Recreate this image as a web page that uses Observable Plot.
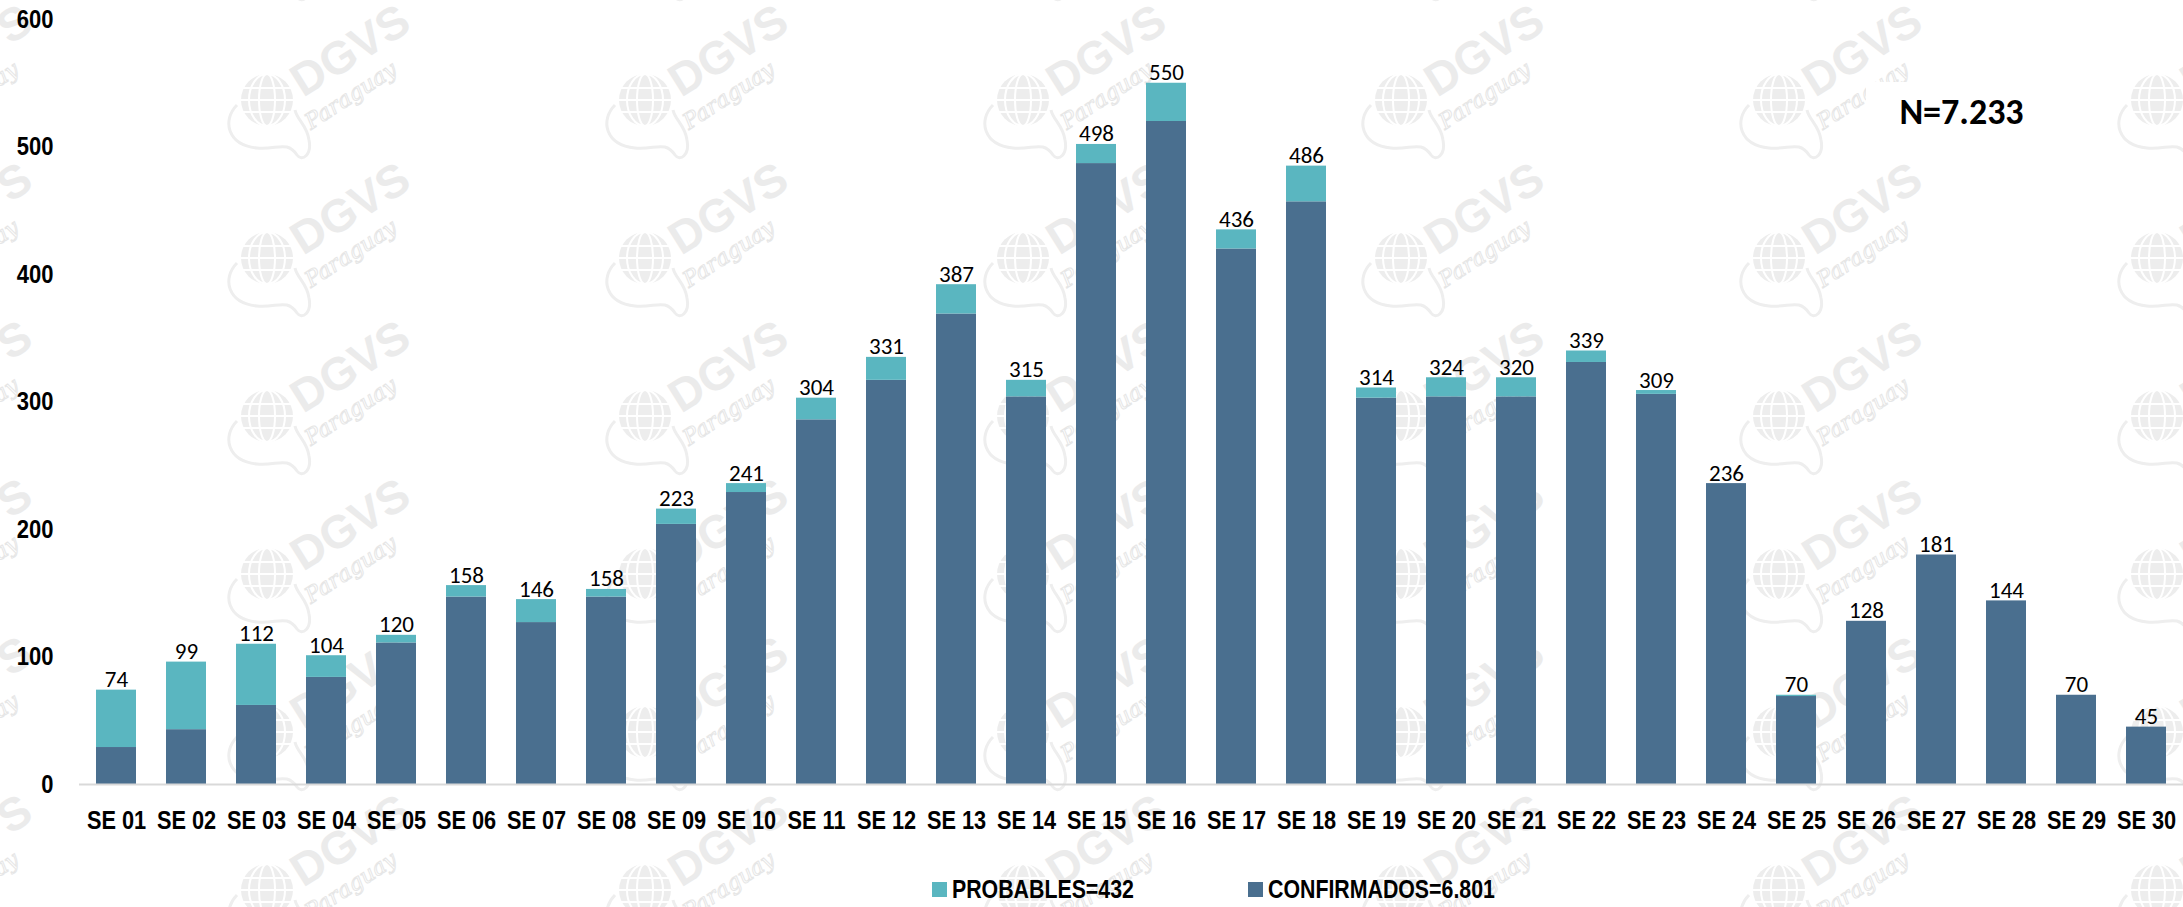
<!DOCTYPE html>
<html>
<head>
<meta charset="utf-8">
<script src="https://cdn.jsdelivr.net/npm/d3@7"></script>
<script src="https://cdn.jsdelivr.net/npm/@observablehq/plot@0.6"></script>
<style>
  html, body { margin: 0; padding: 0; background: #ffffff; }
  #wrap { position: relative; width: 2183px; height: 907px; overflow: hidden; background: #ffffff; }
  #wm { position: absolute; left: 0; top: 0; z-index: 0; }
  #chart { position: absolute; left: 0; top: 0; z-index: 1; }
  #legend { position: absolute; left: 0; top: 860px; width: 2183px; height: 47px; z-index: 1; }
  .item { position: absolute; top: 14px; display: flex; align-items: center; gap: 5px;
          font-family: "Liberation Sans", Arial, sans-serif;
          font-weight: bold; font-size: 26px; line-height: 30px; color: #000; white-space: nowrap; }
  .item .tx { display: inline-block; transform: scaleX(0.82); transform-origin: left center; }
  .sw { width: 15px; height: 15px; display: inline-block; }
  #nbox { position: absolute; left: 1866px; top: 82px; width: 191px; height: 60px; z-index: 2;
          background: #ffffff; display: flex; align-items: center; justify-content: center;
          font-family: "Carlito", "Lato", sans-serif; font-weight: bold; font-size: 36px; color: #000; }
</style>
</head>
<body>
<div id="wrap">
  <svg id="wm" width="2183" height="907"></svg>
  <div id="chart"></div>
  <div id="legend"></div>
  <div id="nbox"></div>
</div>
<script>
// ---- data ----
const weeks = ["SE 01","SE 02","SE 03","SE 04","SE 05","SE 06","SE 07","SE 08","SE 09","SE 10",
               "SE 11","SE 12","SE 13","SE 14","SE 15","SE 16","SE 17","SE 18","SE 19","SE 20",
               "SE 21","SE 22","SE 23","SE 24","SE 25","SE 26","SE 27","SE 28","SE 29","SE 30"];
const confirmados = [29, 43, 62, 84, 111, 147, 127, 147, 204, 229,
                     286, 317, 369, 304, 487, 520, 420, 457, 303, 304,
                     304, 331, 306, 236, 69, 128, 180, 144, 70, 45];
const probables = [45, 53, 48, 17, 6, 9, 18, 6, 12, 7,
                   17, 18, 23, 13, 15, 30, 15, 28, 8, 15,
                   15, 9, 3, 0, 1, 0, 0, 0, 0, 0];
const totales = [74, 99, 112, 104, 120, 158, 146, 158, 223, 241,
                 304, 331, 387, 315, 498, 550, 436, 486, 314, 324,
                 320, 339, 309, 236, 70, 128, 181, 144, 70, 45];
const yTicks = [0, 100, 200, 300, 400, 500, 600];
const series = ["CONFIRMADOS", "PROBABLES"];
const seriesColors = ["#4A6F8F", "#5AB6C0"];
const legendItems = [
  {serie: "PROBABLES", label: "PROBABLES=432"},
  {serie: "CONFIRMADOS", label: "CONFIRMADOS=6.801"}
];
const nLabel = "N=7.233";

// ---- tables ----
const rows = weeks.flatMap((w, i) => [
  {week: w, serie: "CONFIRMADOS", value: confirmados[i]},
  {week: w, serie: "PROBABLES", value: probables[i]}
]);
const tops = weeks.map((w, i) => ({week: w, top: confirmados[i] + probables[i], label: String(totales[i])}));

const boldFont = '"Liberation Sans", Arial, sans-serif';

const chart = Plot.plot({
  width: 2183,
  height: 860,
  marginLeft: 79,
  marginRight: 0,
  marginTop: 19,
  marginBottom: 76,
  style: {background: "transparent", fontFamily: boldFont, fontSize: "26px", fontWeight: "bold", color: "#000"},
  x: {domain: weeks, paddingInner: 0.43, paddingOuter: 0.215, label: null},
  y: {domain: [0, 600], label: null},
  color: {domain: series, range: seriesColors},
  marks: [
    Plot.barY(rows, {x: "week", y: "value", fill: "serie", order: series}),
    Plot.ruleY([0], {stroke: "#D9D9D9", strokeWidth: 2}),
    Plot.text(tops, {x: "week", y: "top", text: "label", dy: -3, lineAnchor: "bottom",
      fontFamily: '"Carlito", "Lato", sans-serif', fontSize: 23, fontWeight: "normal", fill: "#000"}),
    Plot.axisY({ticks: yTicks, tickSize: 0, tickPadding: 26, label: null,
      fontFamily: boldFont, fontSize: 25, fontWeight: "bold", fill: "#000"}),
    Plot.axisX({tickSize: 0, tickPadding: 26, label: null,
      fontFamily: boldFont, fontSize: 26.5, fontWeight: "bold", fill: "#000"})
  ]
});
document.getElementById("chart").appendChild(chart);

// condense the bold axis labels (narrow bold look)
const condense = (sel, f) => chart.querySelectorAll(sel).forEach(t => {
  const len = t.getComputedTextLength();
  t.setAttribute("textLength", (len * f).toFixed(1));
  t.setAttribute("lengthAdjust", "spacingAndGlyphs");
});
condense('g[aria-label="x-axis tick label"] text', 0.82);
condense('g[aria-label="y-axis tick label"] text', 0.88);

// ---- legend ----
const colorOf = Object.fromEntries(series.map((s, i) => [s, seriesColors[i]]));
const legendX = [932, 1248];
const legend = document.getElementById("legend");
legendItems.forEach((d, i) => {
  const it = document.createElement("div");
  it.className = "item";
  it.style.left = legendX[i] + "px";
  const sw = document.createElement("span");
  sw.className = "sw";
  sw.style.background = colorOf[d.serie];
  const tx = document.createElement("span");
  tx.className = "tx";
  tx.textContent = d.label;
  it.appendChild(sw); it.appendChild(tx);
  legend.appendChild(it);
});
document.getElementById("nbox").textContent = nLabel;

// ---- watermark (DGVS Paraguay) ----
const wm = d3.select("#wm");
const gxs = d3.range(-111, 2300, 378);
const gys = d3.range(-58, 1000, 158);
for (const gx of gxs) for (const gy of gys) {
  const g = wm.append("g").attr("transform", `translate(${gx},${gy})`);
  g.append("circle").attr("r", 26).attr("fill", "#EDEDED");
  for (const k of [-12, 0, 12]) {
    g.append("line").attr("x1", -26).attr("x2", 26).attr("y1", k).attr("y2", k)
      .attr("stroke", "#FFFFFF").attr("stroke-width", 2);
  }
  for (const rx of [8, 18]) {
    g.append("ellipse").attr("rx", rx).attr("ry", 26).attr("fill", "none")
      .attr("stroke", "#FFFFFF").attr("stroke-width", 2);
  }
  g.append("path")
    .attr("d", "M-30,5 C-45,20 -40,45 -10,48 C10,50 20,40 30,55 C35,62 45,55 42,40 C40,25 30,20 28,10")
    .attr("fill", "none").attr("stroke", "#EEEEEE").attr("stroke-width", 3);
  g.append("text").attr("transform", "translate(36,-2) rotate(-32)")
    .attr("font-family", "'Liberation Sans', Arial, sans-serif").attr("font-weight", "bold")
    .attr("font-size", 46).attr("fill", "#EBEBEB").text("DGVS");
  g.append("text").attr("transform", "translate(44,30) rotate(-33)")
    .attr("font-family", "'DejaVu Serif', serif").attr("font-style", "italic")
    .attr("font-size", 22).attr("fill", "none").attr("stroke", "#E6E6E6").attr("stroke-width", 1)
    .text("Paraguay");
}
</script>
</body>
</html>
